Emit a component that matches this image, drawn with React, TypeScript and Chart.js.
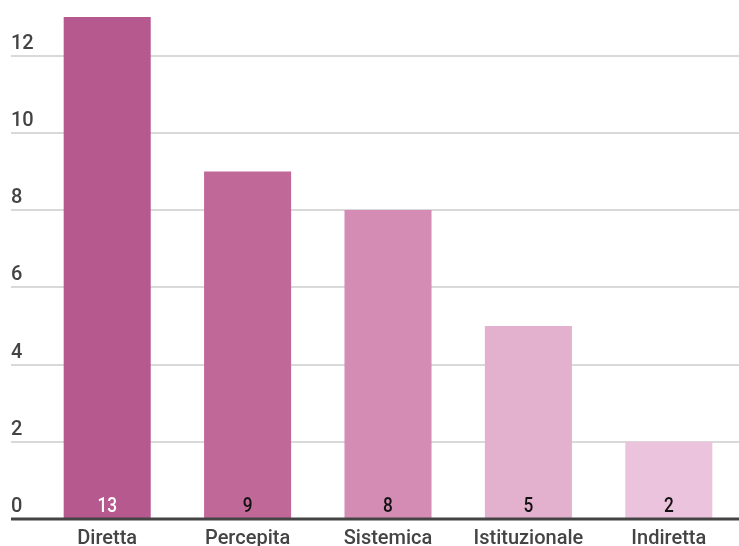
import React, { useEffect, useRef } from "react";
import { Chart, registerables } from "chart.js";

Chart.register(...registerables);

const categories = ["Diretta", "Percepita", "Sistemica", "Istituzionale", "Indiretta"];
const values = [13, 9, 8, 5, 2];
const barColors = ["#b5598e", "#c06898", "#d48cb5", "#e3b0cd", "#ecc3dc"];
const valueLabelColors = ["#ffffff", "#111111", "#111111", "#111111", "#111111"];
const yTickValues = [0, 2, 4, 6, 8, 10, 12];

const FONT = "Roboto, 'Noto Sans', sans-serif";

// Dark baseline at zero plus the value written at the foot of each bar
const overlayPlugin = {
  id: "overlay",
  afterDatasetsDraw(chart: any) {
    const { ctx, scales } = chart;
    const y = scales.y;
    const base = y.getPixelForValue(0);
    ctx.save();
    ctx.strokeStyle = "#444444";
    ctx.lineWidth = 3;
    ctx.beginPath();
    ctx.moveTo(y.left, base);
    ctx.lineTo(chart.width, base);
    ctx.stroke();

    const meta = chart.getDatasetMeta(0);
    ctx.font = `500 21px ${FONT}`;
    ctx.textAlign = "center";
    ctx.textBaseline = "alphabetic";
    meta.data.forEach((bar: any, i: number) => {
      ctx.save();
      ctx.fillStyle = valueLabelColors[i];
      ctx.translate(bar.x, base - 7);
      ctx.scale(0.82, 1);
      ctx.fillText(String(values[i]), 0, 0);
      ctx.restore();
    });
    ctx.restore();
  },
};

export default function App() {
  const canvasRef = useRef<HTMLCanvasElement | null>(null);

  useEffect(() => {
    if (!canvasRef.current) return;
    const chart = new Chart(canvasRef.current, {
      type: "bar",
      data: {
        labels: categories,
        datasets: [
          {
            data: values,
            backgroundColor: barColors,
            borderWidth: 0,
            barPercentage: 0.62,
            categoryPercentage: 1,
          },
        ],
      },
      options: {
        animation: false,
        responsive: true,
        maintainAspectRatio: false,
        layout: { padding: { left: 11, top: 17, right: 0, bottom: 0 } },
        plugins: {
          legend: { display: false },
          tooltip: { enabled: false },
        },
        scales: {
          x: {
            grid: { display: false, drawTicks: false },
            border: { display: false },
            ticks: {
              color: "#444444",
              font: { family: FONT, size: 20, weight: "500" },
              padding: 8,
              maxRotation: 0,
            },
            afterFit(scale: any) {
              scale.height = 27;
            },
          },
          y: {
            min: 0,
            max: 13,
            border: { display: false },
            grid: {
              color: "#d9d9d9",
              lineWidth: 2,
              drawTicks: true,
              tickLength: 26,
            },
            ticks: {
              stepSize: 2,
              color: "#444444",
              font: { family: FONT, size: 20, weight: "500" },
              crossAlign: "far",
              labelOffset: -12,
              padding: 0,
            },
            afterBuildTicks(scale: any) {
              scale.ticks = yTickValues.map((v) => ({ value: v }));
            },
            afterFit(scale: any) {
              scale.width = 26;
            },
          },
        },
      },
      plugins: [overlayPlugin],
    });
    return () => chart.destroy();
  }, []);

  return (
    <div style={{ position: "absolute", left: 0, top: 0, width: 739, height: 546 }}>
      <canvas ref={canvasRef} />
    </div>
  );
}
